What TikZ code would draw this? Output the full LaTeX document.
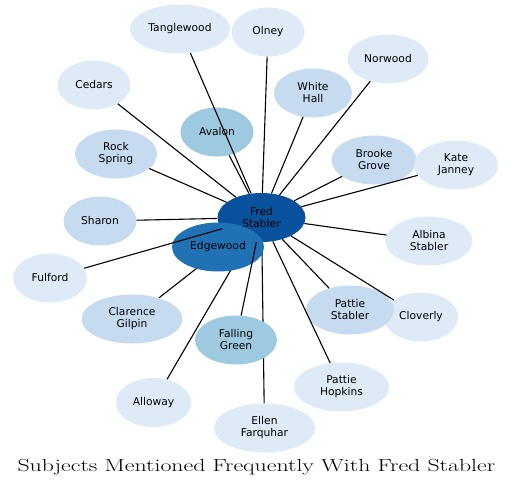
\documentclass[tikz,border=0pt]{standalone}
\usepackage{fontspec}
\usepackage{tikz}
\usetikzlibrary{shapes.geometric, backgrounds}
\newfontfamily\nodefont{DejaVu Sans}
\definecolor{subjdark}{RGB}{8,81,156}
\definecolor{subjblue}{RGB}{33,113,181}
\definecolor{subjmid}{RGB}{158,202,225}
\definecolor{subjpale}{RGB}{198,219,239}
\definecolor{subjlight}{RGB}{222,235,247}

\begin{document}
\begin{tikzpicture}[
  x=1pt, y=-1pt,
  every node/.style = {font=\nodefont\fontsize{10.7}{12}\selectfont},
  subj/.style      = {ellipse, inner sep=0pt, minimum height=49pt, minimum width=#1, align=center, text=black},
  lightnode/.style = {subj=#1, fill=subjlight},
  palenode/.style  = {subj=#1, fill=subjpale},
  midnode/.style   = {subj=#1, fill=subjmid},
  link/.style      = {line width=1.1pt, black}
]
\useasboundingbox (0,0) rectangle (512,488);
%% ---- subjects ----
\node[lightnode=100pt] (tanglewood) at (180,29)    {Tanglewood};
\node[lightnode=73pt]  (olney)      at (268,32)    {Olney};
\node[lightnode=73pt]  (cedars)     at (94,85)     {Cedars};
\node[lightnode=81pt]  (norwood)    at (388,59)    {Norwood};
\node[palenode=78pt]   (whitehall)  at (313,93)    {White\\Hall};
\node[midnode=73pt]    (avalon)     at (217,132)   {Avalon};
\node[palenode=82pt]   (rockspring) at (116,154)   {Rock\\Spring};
\node[palenode=85pt]   (brooke)     at (374,160)   {Brooke\\Grove};
\node[lightnode=84pt]  (kate)       at (456,165)   {Kate\\Janney};
\node[palenode=73pt]   (sharon)     at (100,221)   {Sharon};
\node[lightnode=87pt]  (albina)     at (429,241)   {Albina\\Stabler};
\node[lightnode=74pt]  (fulford)    at (50,278)    {Fulford};
\node[palenode=101pt]  (clarence)   at (132,319)   {Clarence\\Gilpin};
\node[lightnode=74pt]  (cloverly)   at (421,317)   {Cloverly};
\node[palenode=88pt]   (pattie)     at (350,310)   {Pattie\\Stabler};
\node[midnode=82pt]    (falling)    at (236,340)   {Falling\\Green};
\node[lightnode=75pt]  (alloway)    at (153.5,402.5) {Alloway};
\node[lightnode=95pt]  (hopkins)    at (341.5,387) {Pattie\\Hopkins};
\node[lightnode=101pt] (ellen)      at (264.5,428) {Ellen\\Farquhar};
\node[subj=88pt, fill=subjdark] (fred)     at (261.5,217.5) {Fred\\Stabler};
\node[subj=92pt, fill=subjblue] (edgewood) at (218,247)     {Edgewood};
%% ---- links (some pass under the nodes) ----
\begin{pgfonlayer}{background}
\draw[link] (fred) -- (clarence); \draw[link] (fred) -- (alloway); \draw[link] (fred) -- (ellen);
\end{pgfonlayer}
\draw[link] (fred) -- (tanglewood); \draw[link] (fred) -- (olney); \draw[link] (fred) -- (cedars);
\draw[link] (fred) -- (norwood); \draw[link] (fred) -- (whitehall); \draw[link] (fred) -- (avalon);
\draw[link] (fred) -- (rockspring); \draw[link] (fred) -- (brooke); \draw[link] (fred) -- (kate);
\draw[link] (fred) -- (sharon); \draw[link] (fred) -- (albina); \draw[link] (fred) -- (fulford);
\draw[link] (fred) -- (pattie); \draw[link] (fred) -- (cloverly); \draw[link] (fred) -- (falling);
\draw[link] (fred) -- (hopkins);
%% ---- title ----
\node[font=\rmfamily\fontsize{17.5}{21}\selectfont, anchor=base] (title) at (256.4,471)
  {\scalebox{1.36}[1]{Subjects Mentioned Frequently With Fred Stabler}};
\end{tikzpicture}
\end{document}
